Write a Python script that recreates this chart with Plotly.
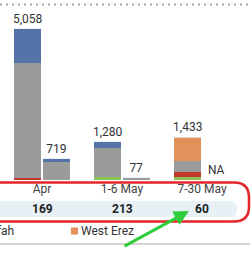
import plotly.graph_objects as go

# ---------------- data ----------------
periods = ["Apr", "1-6 May", "7-30 May"]

# left bar of each period (stack, bottom -> top)
a_other = [0, 90, 93]          # green
a_erez = [63, 0, 170]          # red
a_kerem = [3855, 970, 370]     # gray
a_rafah = [1140, 220, 0]       # blue
a_west_erez = [0, 0, 800]      # orange
a_labels = ["5,058", "1,280", "1,433"]

# right bar of each period
b_kerem = [619, 77, None]
b_rafah = [100, 0, None]
b_labels = ["719", "77", "NA"]

row_values = ["169", "213", "60"]
legend_names = ["Rafah", "West Erez"]

# ---------------- style ----------------
W, H = 252, 258
C_GRAY, C_BLUE, C_ORANGE, C_RED, C_GREEN = "#9b9b9b", "#5473a8", "#e3915a", "#c0392f", "#8dc255"
FONT = "Roboto"


def px_x(p):
    return p / W


def px_y(p):
    return (H - p) / H


fig = go.Figure()

stack_a = [
    ("Other", a_other, C_GREEN),
    ("Erez", a_erez, C_RED),
    ("Kerem Shalom", a_kerem, C_GRAY),
    ("Rafah", a_rafah, C_BLUE),
    ("West Erez", a_west_erez, C_ORANGE),
]
for name, vals, col in stack_a:
    fig.add_trace(go.Bar(x=periods, y=vals, name=name, offsetgroup="A",
                         marker=dict(color=col, line=dict(width=0)),
                         showlegend=False, hoverinfo="skip"))
fig.add_trace(go.Bar(x=periods, y=[0] * len(periods), offsetgroup="A",
                     text=a_labels, textposition="outside", constraintext="none",
                     cliponaxis=False, textfont=dict(family=FONT, size=12, color="#333"),
                     marker=dict(color="rgba(0,0,0,0)"), showlegend=False, hoverinfo="skip"))

stack_b = [
    ("Kerem Shalom", b_kerem, C_GRAY),
    ("Rafah", b_rafah, C_BLUE),
]
for name, vals, col in stack_b:
    fig.add_trace(go.Bar(x=periods, y=vals, name=name, offsetgroup="B",
                         marker=dict(color=col, line=dict(width=0)),
                         showlegend=False, hoverinfo="skip"))
fig.add_trace(go.Bar(x=periods, y=[0] * len(periods), offsetgroup="B",
                     text=b_labels, textposition="outside", constraintext="none",
                     cliponaxis=False, textfont=dict(family=FONT, size=12, color="#333"),
                     marker=dict(color="rgba(0,0,0,0)"), showlegend=False, hoverinfo="skip"))

shapes = []
# dotted line at top
shapes.append(dict(type="line", xref="paper", yref="paper", x0=0, x1=1,
                   y0=px_y(4.5), y1=px_y(4.5), line=dict(color="#aaaaaa", width=2, dash="2px,4px")))
# light blue band behind the row values
bx1, by0, by1, br = px_x(237), px_y(201), px_y(217), 8
rx, ry = br / W, br / H
band = (f"M -0.05,{by0} L {bx1 - rx},{by0} Q {bx1},{by0} {bx1},{(by0 + by1) / 2} "
        f"Q {bx1},{by1} {bx1 - rx},{by1} L -0.05,{by1} Z")
shapes.append(dict(type="path", xref="paper", yref="paper", path=band,
                   fillcolor="#e7f0f5", line=dict(width=0), layer="below"))
# red rounded rectangle
rx1, ry0, ry1, rr = px_x(249), px_y(182.5), px_y(221.5), 15
qx, qy = rr / W, rr / H
red = (f"M -0.1,{ry0} L {rx1 - qx},{ry0} Q {rx1},{ry0} {rx1},{ry0 - qy} "
       f"L {rx1},{ry1 + qy} Q {rx1},{ry1} {rx1 - qx},{ry1} L -0.1,{ry1}")
shapes.append(dict(type="path", xref="paper", yref="paper", path=red,
                   line=dict(color="#e2262a", width=2.5)))
# bottom gray rule
shapes.append(dict(type="line", xref="paper", yref="paper", x0=0, x1=px_x(250),
                   y0=px_y(244), y1=px_y(244), line=dict(color="#d3d3d3", width=2)))
# legend swatch (West Erez)
shapes.append(dict(type="rect", xref="paper", yref="paper", x0=px_x(71), x1=px_x(78),
                   y0=px_y(234.5), y1=px_y(227.5), fillcolor=C_ORANGE, line=dict(width=0)))

annotations = []
for p, v in zip(periods, row_values):
    annotations.append(dict(x=p, xref="x", y=px_y(209), yref="paper", text=f"<b>{v}</b>",
                            showarrow=False, font=dict(family=FONT, size=12, color="#222"),
                            xanchor="center", yanchor="middle"))
annotations.append(dict(x=px_x(16), y=px_y(231), xref="paper", yref="paper", text=legend_names[0],
                        showarrow=False, xanchor="right", yanchor="middle",
                        font=dict(family=FONT, size=12, color="#333")))
annotations.append(dict(x=px_x(79), y=px_y(231), xref="paper", yref="paper", text=legend_names[1],
                        showarrow=False, xanchor="left", yanchor="middle",
                        font=dict(family=FONT, size=12, color="#333")))
# green arrow
annotations.append(dict(x=px_x(189), y=px_y(211), xref="paper", yref="paper", text="",
                        showarrow=True, ax=-66, ay=36, axref="pixel", ayref="pixel",
                        arrowcolor="#2fcc3c", arrowwidth=3, arrowhead=2, arrowsize=1, standoff=0))

fig.update_layout(
    width=W, height=H,
    margin=dict(l=0, r=0, t=0, b=0, pad=0, autoexpand=False),
    paper_bgcolor="white", plot_bgcolor="white",
    barmode="stack", bargap=0.2875, bargroupgap=0.05,
    showlegend=False,
    xaxis=dict(range=[-0.525, 2.625], showgrid=False, zeroline=False, showline=False,
               ticks="", automargin=False, tickfont=dict(family=FONT, size=12, color="#444"),
               fixedrange=True),
    yaxis=dict(domain=[px_y(180), 1], range=[0, 6029], visible=False, fixedrange=True),
    shapes=shapes, annotations=annotations,
    font=dict(family=FONT),
)

fig.write_html("out.html", config={"displayModeBar": False})
